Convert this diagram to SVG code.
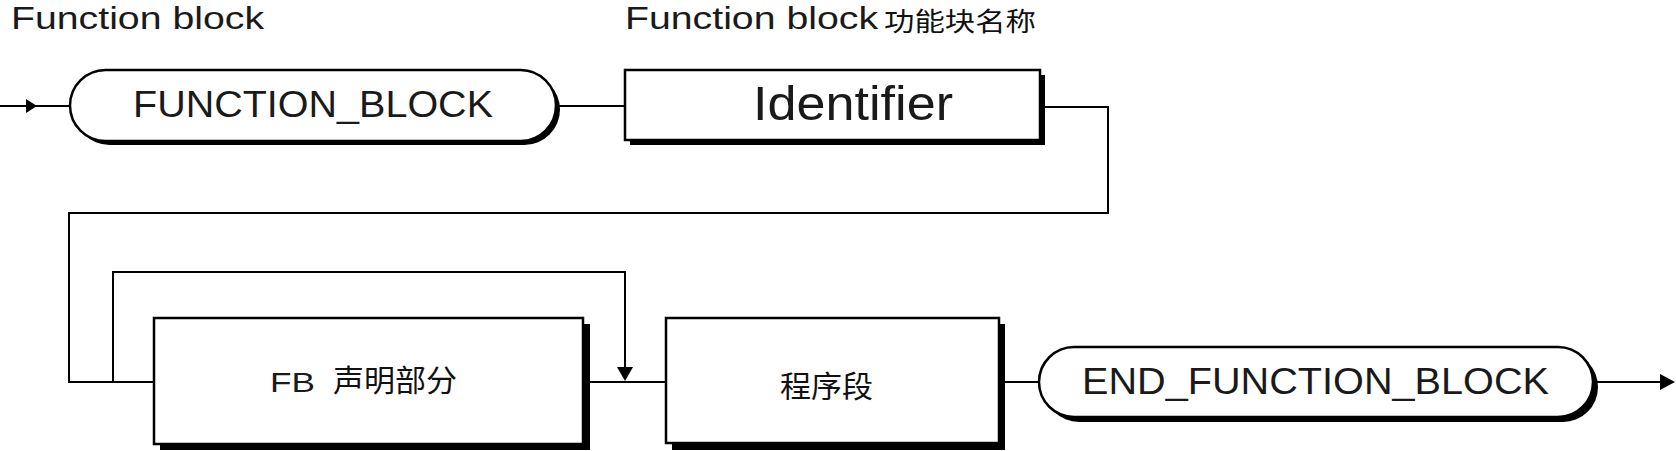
<svg xmlns="http://www.w3.org/2000/svg" width="1676" height="451" viewBox="0 0 1676 451">
<style>
.bg{fill:#ffffff}
.box{fill:#ffffff;stroke:#000;stroke-width:2.5}
.shadow{fill:#000}
.line{fill:none;stroke:#000;stroke-width:2}
.arrow{fill:#000}
.lat{font-family:"Liberation Sans",Arial,sans-serif;fill:#1a1a1a}
.cjk{font-family:"Noto Sans CJK SC","Noto Sans CJK JP",sans-serif;fill:#111}
</style>
<rect class="bg" x="0" y="0" width="1676" height="451"/>
<g id="titles">
<text class="lat" x="11" y="29" font-size="32" textLength="253" lengthAdjust="spacingAndGlyphs">Function block</text>
<text class="lat" x="625" y="29" font-size="32" textLength="253" lengthAdjust="spacingAndGlyphs">Function block</text>
<text class="cjk" x="884" y="31" font-size="26" textLength="152" lengthAdjust="spacingAndGlyphs">功能块名称</text>
</g>
<g id="connectors">
<line class="line" x1="0" y1="106" x2="70" y2="106"/>
<polygon class="arrow" points="26,99 37,106 26,113"/>
<line class="line" x1="556" y1="106" x2="625" y2="106"/>
<polyline class="line" points="1040,107 1108,107 1108,213 69,213 69,382 154,382"/>
<polyline class="line" points="113,382 113,272 625,272 625,370"/>
<polygon class="arrow" points="617,367 633,367 625,381"/>
<line class="line" x1="583" y1="382" x2="666" y2="382"/>
<line class="line" x1="999" y1="382" x2="1039" y2="382"/>
<line class="line" x1="1593" y1="382" x2="1662" y2="382"/>
<polygon class="arrow" points="1660,374 1675,382 1660,390"/>
</g>
<g id="node-function-block">
<rect class="shadow" x="74" y="74" width="486" height="71" rx="35.5"/>
<rect class="box" x="70" y="70" width="486" height="71" rx="35.5"/>
<text class="lat" x="133" y="117" font-size="37" textLength="360" lengthAdjust="spacingAndGlyphs">FUNCTION_BLOCK</text>
</g>
<g id="node-identifier">
<rect class="shadow" x="630" y="75" width="415" height="70"/>
<rect class="box" x="625" y="70" width="415" height="70"/>
<text class="lat" x="753" y="120" font-size="48" textLength="200" lengthAdjust="spacingAndGlyphs">Identifier</text>
</g>
<g id="node-fb-decl">
<rect class="shadow" x="160" y="324" width="430" height="126"/>
<rect class="box" x="154" y="318" width="429" height="126"/>
<text class="lat" x="270" y="392" font-size="28" textLength="45" lengthAdjust="spacingAndGlyphs">FB</text>
<text class="cjk" x="333" y="391" font-size="30" textLength="124" lengthAdjust="spacingAndGlyphs">声明部分</text>
</g>
<g id="node-program">
<rect class="shadow" x="672" y="324" width="333" height="126"/>
<rect class="box" x="666" y="318" width="333" height="125"/>
<text class="cjk" x="780" y="397" font-size="30" textLength="93" lengthAdjust="spacingAndGlyphs">程序段</text>
</g>
<g id="node-end-function-block">
<rect class="shadow" x="1044" y="352" width="554" height="70" rx="35"/>
<rect class="box" x="1039" y="347" width="554" height="70" rx="35"/>
<text class="lat" x="1082" y="394" font-size="37" textLength="467" lengthAdjust="spacingAndGlyphs">END_FUNCTION_BLOCK</text>
</g>
</svg>
